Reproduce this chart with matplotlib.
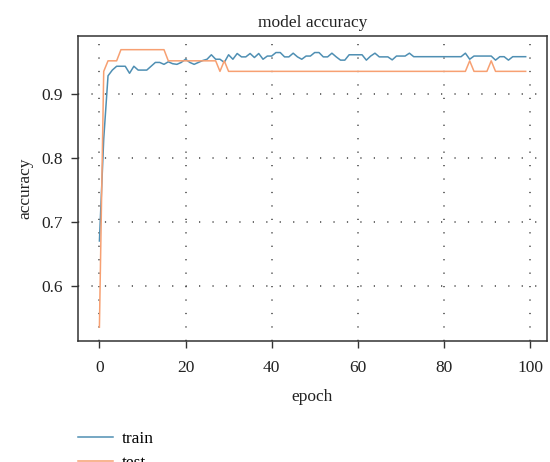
import matplotlib
matplotlib.use("Agg")
import matplotlib.pyplot as plt
import numpy as np

epochs = list(range(100))

train_acc = [
    0.670, 0.830, 0.929, 0.938, 0.944, 0.944, 0.944, 0.933, 0.944, 0.938,
    0.938, 0.938, 0.944, 0.950, 0.950, 0.947, 0.951, 0.948, 0.947, 0.950,
    0.955, 0.950, 0.947, 0.950, 0.953, 0.955, 0.962, 0.955, 0.955, 0.950,
    0.962, 0.955, 0.964, 0.9587, 0.9587, 0.964, 0.9577, 0.964, 0.955, 0.960,
    0.960, 0.9655, 0.9655, 0.9587, 0.9587, 0.9645, 0.9587, 0.955, 0.960, 0.960,
    0.9655, 0.9655, 0.9587, 0.9587, 0.9645, 0.9587, 0.9536, 0.9536, 0.962, 0.962,
    0.962, 0.962, 0.9536, 0.960, 0.9645, 0.9587, 0.9587, 0.9587, 0.954, 0.960,
    0.960, 0.960, 0.9645, 0.959, 0.959, 0.959, 0.959, 0.959, 0.959, 0.959,
    0.959, 0.959, 0.959, 0.959, 0.959, 0.9645, 0.955, 0.960, 0.960, 0.960,
    0.960, 0.960, 0.9536, 0.959, 0.959, 0.9536, 0.959, 0.959, 0.959, 0.959,
]

test_acc = (
    [0.535, 0.936, 0.9525, 0.9525, 0.9525]
    + [0.970] * 11                      # epochs 5-15
    + [0.9525] * 12                     # epochs 16-27
    + [0.936, 0.9525]                   # epochs 28-29
    + [0.936] * 56                      # epochs 30-85
    + [0.9525]                          # epoch 86
    + [0.936] * 4                       # epochs 87-90
    + [0.9525]                          # epoch 91
    + [0.936] * 8                       # epochs 92-99
)

x_ticks = [0, 20, 40, 60, 80, 100]
y_ticks = [0.6, 0.7, 0.8, 0.9]

plt.rcParams['font.family'] = ['Liberation Serif', 'DejaVu Serif']

fig = plt.figure(figsize=(5.5, 4.62), dpi=100)
ax = fig.add_axes([0.142, 0.262, 0.8525, 0.6605])

ax.plot(epochs, train_acc, color='#4f8fb3', lw=1.1, label='train')
ax.plot(epochs, test_acc, color='#f7a072', lw=1.1, label='test')

ax.set_xticks(x_ticks)
ax.set_yticks(y_ticks)
ax.tick_params(axis='both', labelsize=12.5, length=5, width=1, color='#333333',
               labelcolor='#222222')
ax.tick_params(axis='x', pad=9)
ax.tick_params(axis='y', pad=6)
for s in ax.spines.values():
    s.set_color('#333333')
    s.set_linewidth(1.1)

ax.grid(True, color='#444444', linestyle=(0, (0.8, 8.0)), linewidth=1.1)

ax.set_title('model accuracy', fontsize=12.5, color='#222222', pad=6)
ax.set_xlabel('epoch', fontsize=12.5, color='#222222', labelpad=9)
ax.set_ylabel('accuracy', fontsize=12.5, color='#222222', labelpad=6)

fig.legend(loc='upper left', bbox_to_anchor=(78 / 550, 1 - 431 / 462),
           frameon=False, fontsize=12.5, borderpad=0, borderaxespad=0,
           handlelength=2.0, handletextpad=0.5, labelspacing=0.45)

fig.savefig('out.png', dpi=100)
